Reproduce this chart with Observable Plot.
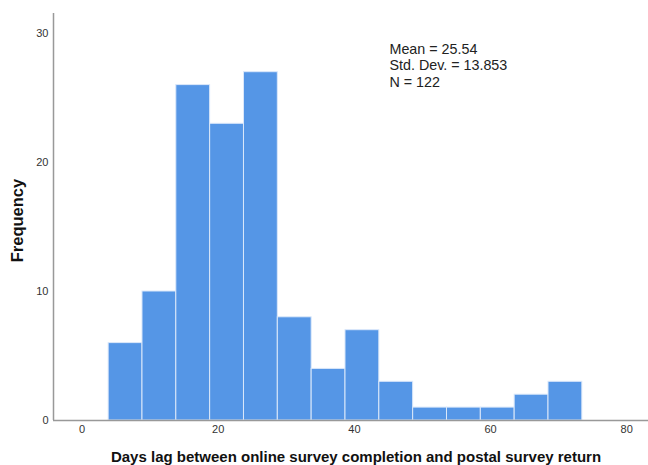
<!DOCTYPE html>
<html>
<head>
<meta charset="utf-8">
<script src="https://cdn.jsdelivr.net/npm/d3@7"></script>
<script src="https://cdn.jsdelivr.net/npm/@observablehq/plot@0.6"></script>
<style>
  html, body { margin: 0; padding: 0; background: #fff; }
  svg { font-family: "Liberation Sans", Arial, sans-serif; }
</style>
</head>
<body>
<div id="chart"></div>
<script>
const binStart = 3.9;
const binWidth = 4.97;
const frequencies = [6, 10, 26, 23, 27, 8, 4, 7, 3, 1, 1, 1, 2, 3];
const xTicks = [0, 20, 40, 60, 80];
const yTicks = [0, 10, 20, 30];
const statsLines = ["Mean = 25.54", "Std. Dev. = 13.853", "N = 122"];
const xLabel = "Days lag between online survey completion and postal survey return";
const yLabel = "Frequency";

const bins = frequencies.map((f, i) => ({
  x1: binStart + i * binWidth,
  x2: binStart + (i + 1) * binWidth,
  y: f
}));

const chart = Plot.plot({
  width: 648,
  height: 465,
  marginLeft: 53,
  marginRight: 0,
  marginTop: 13,
  marginBottom: 45,
  style: { fontFamily: "Liberation Sans, Arial, sans-serif", background: "#fff" },
  x: { domain: [-4.2, 83.2], ticks: xTicks },
  y: { domain: [0, 31.55], ticks: yTicks },
  marks: [
    Plot.rectY(bins, { x1: "x1", x2: "x2", y: "y", fill: "#5596e6", stroke: "#dbe8fa", strokeWidth: 1 }),
    Plot.ruleY([0], { stroke: "#999", strokeWidth: 1.5 }),
    Plot.ruleX([-4.2], { stroke: "#999", strokeWidth: 1.5 }),
    Plot.axisX({ ticks: xTicks, tickSize: 0, tickPadding: 5, fontSize: 11, color: "#333", label: null }),
    Plot.axisY({ ticks: yTicks, tickSize: 0, tickPadding: 5, fontSize: 11, color: "#333", label: null }),
    Plot.text([statsLines.join("\n")], {
      frameAnchor: "top-left", dx: 336, dy: 29, textAnchor: "start", lineAnchor: "top",
      lineHeight: 1.14, fontSize: 14.3, fill: "#222"
    }),
    Plot.text([xLabel], {
      frameAnchor: "bottom", dx: 5, dy: 37, textAnchor: "middle", lineAnchor: "middle", fontSize: 15, fontWeight: "bold", fill: "#111"
    }),
    Plot.text([yLabel], {
      frameAnchor: "left", dx: -36, dy: 3.5, rotate: -90, textAnchor: "middle", lineAnchor: "middle", fontSize: 16.5, fontWeight: "bold", fill: "#111"
    })
  ]
});
document.getElementById("chart").appendChild(chart);
</script>
</body>
</html>
